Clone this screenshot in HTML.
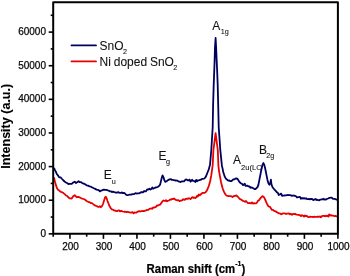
<!DOCTYPE html>
<html><head><meta charset="utf-8"><style>
html,body{margin:0;padding:0;background:#fff;}
body{width:350px;height:276px;overflow:hidden;}
svg{display:block;will-change:transform;font-family:"Liberation Sans",sans-serif;}
</style></head><body>
<svg width="350" height="276" viewBox="0 0 350 276">
<rect width="350" height="276" fill="#fff"/>
<g font-size="10" fill="#0a0a0a" stroke="#0a0a0a" stroke-width="0.25"><text x="70.55" y="250.1" text-anchor="middle">200</text><text x="104.04" y="250.1" text-anchor="middle">300</text><text x="137.54" y="250.1" text-anchor="middle">400</text><text x="171.03" y="250.1" text-anchor="middle">500</text><text x="204.52" y="250.1" text-anchor="middle">600</text><text x="238.02" y="250.1" text-anchor="middle">700</text><text x="271.51" y="250.1" text-anchor="middle">800</text><text x="305.01" y="250.1" text-anchor="middle">900</text><text x="338.50" y="250.1" text-anchor="middle">1000</text><text x="46" y="236.85" text-anchor="end">0</text><text x="46" y="203.22" text-anchor="end">10000</text><text x="46" y="169.60" text-anchor="end">20000</text><text x="46" y="135.97" text-anchor="end">30000</text><text x="46" y="102.35" text-anchor="end">40000</text><text x="46" y="68.72" text-anchor="end">50000</text><text x="46" y="35.10" text-anchor="end">60000</text></g>
<text transform="translate(146.6,273) scale(1,1.05)" font-size="11.4" font-weight="bold" fill="#000" stroke="#000" stroke-width="0.2">Raman shift (cm<tspan font-size="7" dy="-6.3">-1</tspan><tspan dy="6.3">)</tspan></text>
<text transform="translate(9.6,168.8) rotate(-90) scale(0.965,1)" font-size="13" font-weight="bold" fill="#000" stroke="#000" stroke-width="0.1">Intensity (a.u.)</text>
<text transform="translate(99.6,49.8) scale(1,1.12)" font-size="12" fill="#111" stroke="#111" stroke-width="0.08">SnO</text><text x="122.9" y="54.2" font-size="7.2" fill="#111" stroke="#111" stroke-width="0.08">2</text><text word-spacing="-0.5" transform="translate(99.6,65.5) scale(1,1.12)" font-size="12" fill="#111" stroke="#111" stroke-width="0.08">Ni doped SnO</text><text x="173.2" y="70.3" font-size="7.2" fill="#111" stroke="#111" stroke-width="0.08">2</text><text transform="translate(212.2,29.5) scale(1,1.12)" font-size="12" fill="#111" stroke="#111" stroke-width="0.08">A</text><text x="220.8" y="34.3" font-size="7.2" fill="#111" stroke="#111" stroke-width="0.08">1g</text><text transform="translate(103.7,178.9) scale(1,1.12)" font-size="12" fill="#111" stroke="#111" stroke-width="0.08">E</text><text x="111.8" y="184.0" font-size="7.2" fill="#111" stroke="#111" stroke-width="0.08">u</text><text transform="translate(158.6,159.8) scale(1,1.12)" font-size="12" fill="#111" stroke="#111" stroke-width="0.08">E</text><text x="165.9" y="164.4" font-size="7.2" fill="#111" stroke="#111" stroke-width="0.08">g</text><text transform="translate(232.9,164.1) scale(1,1.12)" font-size="12" fill="#111" stroke="#111" stroke-width="0.08">A</text><text x="241.0" y="170.0" font-size="7.6" fill="#111" stroke="#111" stroke-width="0.08">2u(LO</text><text transform="translate(258.9,153.7) scale(1,1.12)" font-size="12" fill="#111" stroke="#111" stroke-width="0.08">B</text><text x="266.3" y="158.3" font-size="7.2" fill="#111" stroke="#111" stroke-width="0.08">2g</text>
<line x1="71.5" y1="45.4" x2="96.0" y2="45.4" stroke="#00005e" stroke-width="1.8" stroke-linecap="round"/>
<line x1="71.5" y1="61.4" x2="96.0" y2="61.4" stroke="#e80000" stroke-width="1.8" stroke-linecap="round"/>
<polyline points="54,168 54.9,169.85 55.8,171.6 57,174.3 58.3,175.9 59.15,177.28 60,177.4 60.8,177.48 61.6,178.5 63,180 64.5,181.5 66,182.5 67.4,183.3 68.5,184.1 69.6,183.9 70.65,183.77 71.7,183.9 73.2,182.5 74.6,181.7 76,183 77.5,182 78.6,181.2 79.3,182 80.8,182.1 82.2,183.1 83.7,183.6 85.1,184.3 86.6,185.3 88,185.7 89.5,186.3 90.9,186.7 92.4,187.5 93.8,188.2 95.3,188.9 96.5,189.6 97.6,189.77 98.7,190.2 99.8,191.4 100.9,190.7 101.95,190.38 103,189.9 104,189.6 105.2,189.8 106.3,189.9 107.4,190.2 108.5,190.7 109.3,190.88 110.1,191.46 110.9,191.3 111.95,192.06 113,191.7 114.1,192.03 115.2,192.4 116.3,192.74 117.4,192.5 118.27,192.15 119.13,192.58 120,192.9 120.97,192.78 121.93,192.43 122.9,193.2 123.87,192.88 124.83,193.25 125.8,194.5 127.2,195.2 128.7,194.9 129.67,194.65 130.63,194.55 131.6,194.5 132.57,194.14 133.53,194.13 134.5,193.9 135.47,193.07 136.43,193.53 137.4,193.4 138.37,193.29 139.33,193.31 140.3,192.7 141.27,192.14 142.23,192.23 143.2,192.3 144.13,190.96 145.07,191.38 146,191.3 147.15,189.35 148.3,189.6 149.37,188.59 150.43,189.55 151.5,188.7 152.32,187.4 153.15,188.7 153.98,188.26 154.8,187.9 155.87,187.34 156.93,187.33 158,186.7 159.05,185.96 160.1,184.7 160.9,181.4 161.9,177.3 162.6,175.4 163.5,177.3 164.4,180.3 165.3,181.9 166.6,181.2 168,180.1 169.5,179.4 171,179.1 171.85,179.97 172.7,179.8 173.85,180.03 175,180.5 175.82,180.4 176.65,180.6 177.48,180.61 178.3,181.3 179.5,181.68 180.7,182.1 181.85,181.31 183,181.3 184,181.28 185,180.2 186,179.37 187,179.85 188,180.5 188.82,180.1 189.65,179.6 190.48,181.68 191.3,180.8 192.12,179.72 192.95,180.91 193.78,180.91 194.6,181.3 195.4,181.93 196.2,179.91 197,181.24 197.8,180.5 199.4,180.2 201,179.7 202,178.93 203,178.9 204.4,178.5 205.9,176.6 207.3,173 208.8,169.4 209.5,166.5 210,165 211.3,150 212.7,127 213.1,105 213.7,85 214.2,72 214.6,61 215,47 215.6,38 216.1,47 216.7,61 217.2,72 217.7,85 218.2,105 218.7,127 219.5,138.5 220.3,150 221.9,165.7 222.6,168.6 223.3,172.3 224.8,176.8 226.2,179.1 227.2,179.77 228.2,180.6 229.2,180.51 230.2,181.1 231.2,181.12 232.2,180.5 233.2,179.38 234.2,179.4 235,178.91 235.8,178.5 236.8,178.5 237.8,179.3 239,181.4 240.3,182.8 241.15,183.48 242,183.8 243,185.12 244,184.6 244.8,183.7 245.6,185.96 246.4,185.97 247.2,185.56 248,186.1 248.8,186.55 249.6,186.47 250.4,187.82 251.2,187.4 252,187.6 252.83,187.96 253.67,188.42 254.5,189 255.5,189.1 256.45,188.1 257.4,187.3 258.4,184.8 259.4,179.7 260.4,174.6 261.4,169.5 262.4,165.2 263.4,163 264.4,165.2 265.4,169.5 266.4,174.6 267.4,179.7 268.4,183.3 269.4,184.8 270.4,182.6 270.9,179.7 271.4,184 272.4,187 273.2,187.96 274,189.1 275.5,190.6 277,192.4 277.83,192.73 278.67,194.96 279.5,194.7 280.33,194.11 281.17,193.63 282,195.8 283,195.59 284,195.5 285,195.29 286,195.42 287,195.1 288,195 289,195.03 290,195.1 291,195.4 292,195.85 293,195.5 294,195.54 295,195.85 296,196.3 297,197.54 298,197.1 299,197.1 300,196.87 301,198.8 302,197.9 303,198.55 304,198.14 305,198.7 306,198.28 307,199.18 308,199.2 309,198.88 310,199.4 310.83,198.92 311.67,198.85 312.5,199.3 313.33,200.15 314.17,199.43 315,199.7 315.83,198.98 316.67,200.03 317.5,199.73 318.33,200.12 319.17,200.3 320,199.7 320.83,199.53 321.67,199.46 322.5,199.43 323.33,198.8 324.17,199.62 325,199.2 326,199.65 327,198.82 328,198.5 328.83,198.11 329.67,197.84 330.5,197.7 331.33,197.68 332.17,198.03 333,198.8 333.88,198.82 334.75,198.83 335.62,199.26 336.5,199.7 337.6,199.8" fill="none" stroke="#00005e" stroke-width="1.8" stroke-linejoin="round"/>
<polyline points="54,177.4 55,181.7 56,185.4 57,188.3 58,189.7 59,190.32 60,191.2 61,191.96 62,192.2 63,192.79 64,193.6 65,194.39 66,195.5 67,195.78 68,197 69.6,198.4 70.65,198.34 71.7,198.5 73.2,196.2 74.6,195.2 76,196.5 76.95,197.26 77.9,196.9 79.3,197.2 80.8,198 82.2,198.6 83.7,199 85.1,199.8 86.6,201 88,201.7 89,202.21 90,202.3 91,203.22 92,203.1 93.15,204.12 94.3,204.9 95.4,205.65 96.5,206 97.6,206.59 98.7,207 99.8,206.27 100.9,207.2 102,206.2 103,204 104,200.8 105,197.5 105.7,196.7 106.5,198 107.4,200.8 108.5,203.5 109.6,206.3 110.9,208.4 111.95,209.48 113,209.7 114.1,210.4 115.2,210.6 116.3,211.1 117.4,211.1 118.27,210.32 119.13,210.36 120,211.3 120.97,210.92 121.93,211.2 122.9,211.5 123.87,211.75 124.83,211.68 125.8,211.8 126.77,212.19 127.73,211.75 128.7,212.2 129.67,212.45 130.63,212.6 131.6,212.5 132.57,212.17 133.53,213.36 134.5,212.5 135.47,212.54 136.43,212.63 137.4,211.8 138.37,211.39 139.33,211.23 140.3,211.5 141.27,211.16 142.23,211.11 143.2,211 144.13,211.12 145.07,210.72 146,210.4 147.15,209.88 148.3,209.8 149.37,208.85 150.43,208.61 151.5,208.4 152.32,208.74 153.15,207.45 153.98,207.7 154.8,207.3 155.87,206.95 156.93,205.42 158,205.6 159,204.89 160,204.79 161,203.4 162.3,201.5 163.5,200.5 165,201 166,200.14 167,201.3 167.83,200.77 168.67,200.51 169.5,200.2 170.33,199.39 171.17,199.65 172,199 173,199.07 174,198.47 175,199.3 175.82,199.91 176.65,200.03 177.48,200.37 178.3,200.1 179.5,201.07 180.7,200.6 181.52,200.53 182.35,200.16 183.18,199.2 184,199.6 184.8,199.77 185.6,199.01 186.4,198.95 187.2,198.41 188,198.9 188.82,198.29 189.65,198.38 190.48,199.17 191.3,198.4 192.12,197.18 192.95,197.27 193.78,197.92 194.6,197.6 195.4,198.05 196.2,197.34 197,195.83 197.8,196.5 198.8,194.51 199.8,195.21 200.8,194.3 201.77,193.47 202.73,192.81 203.7,192.9 204.8,192.89 205.9,191.9 207.3,189.7 208.8,186 210.2,181 211.3,175.2 212.1,169.4 212.7,165 213.4,150 214.5,141.6 215.6,133.2 216.7,141.6 217.8,150 218.4,165.7 219,170.8 220,176.6 221.1,182.4 222.6,188.2 224,191.9 225.5,194.5 226.6,195.7 227.7,195.8 228.67,196.01 229.63,196.19 230.6,196.2 231.57,196.42 232.53,197 233.5,196.2 235,195.8 236.4,195.5 237.2,196.1 238.5,197.5 240,199.1 241,199.4 242,200.31 243,200.86 244,201.2 245,201.77 246,201.02 247,202.1 248,203.04 249,203.18 250,203 251,203.46 252,202.41 253,203.6 254,203.18 255,203.4 256,203.42 257,202.6 258,200.54 259,200.3 260,198.86 261,197.6 262.5,196.1 264,197.2 265.5,200.3 267,203.9 268,205.76 269,206.6 270,206.84 271,208.4 272,209.96 273,209.9 274,210.83 275,211.2 276,211.62 277,212.2 277.83,212.76 278.67,213.32 279.5,213.4 280.33,213.63 281.17,214.31 282,213.9 283,213.4 284,213.36 285,213.4 286,214.02 287,213.61 288,213.7 289,213.33 290,214.31 291,213.9 292,214.73 293,213.88 294,214.2 295,213.68 296,214.47 297,214.7 298,214.83 299,214.95 300,215.3 301,216.17 302,215.12 303,215.8 304,216.56 305,215.43 306,216.2 306.8,215.91 307.6,216.72 308.4,217.06 309.2,217.03 310,216.7 310.83,216.89 311.67,216.8 312.5,216.83 313.33,217.05 314.17,216.7 315,216.8 315.83,216.87 316.67,216.95 317.5,216.6 318.33,216.92 319.17,216.75 320,216.4 320.83,217.32 321.67,216.4 322.5,215.94 323.33,215.88 324.17,215.98 325,215.9 325.83,216.31 326.67,215.63 327.5,215.94 328.33,216.62 329.17,214.37 330,215.6 331,215.04 332,215.72 333,215.6 333.88,215.97 334.75,216.07 335.62,215.91 336.5,216.3 337.6,216.4" fill="none" stroke="#e80000" stroke-width="1.8" stroke-linejoin="round"/>
<rect x="53.2" y="2.2" width="284.70" height="231.65" fill="none" stroke="#000" stroke-width="2" stroke-linejoin="round"/>
<g stroke="#000" stroke-width="1.6"><line x1="53.20" y1="233.85" x2="53.20" y2="236.65"/><line x1="69.95" y1="233.85" x2="69.95" y2="238.85"/><line x1="86.69" y1="233.85" x2="86.69" y2="236.65"/><line x1="103.44" y1="233.85" x2="103.44" y2="238.85"/><line x1="120.19" y1="233.85" x2="120.19" y2="236.65"/><line x1="136.94" y1="233.85" x2="136.94" y2="238.85"/><line x1="153.68" y1="233.85" x2="153.68" y2="236.65"/><line x1="170.43" y1="233.85" x2="170.43" y2="238.85"/><line x1="187.18" y1="233.85" x2="187.18" y2="236.65"/><line x1="203.92" y1="233.85" x2="203.92" y2="238.85"/><line x1="220.67" y1="233.85" x2="220.67" y2="236.65"/><line x1="237.42" y1="233.85" x2="237.42" y2="238.85"/><line x1="254.16" y1="233.85" x2="254.16" y2="236.65"/><line x1="270.91" y1="233.85" x2="270.91" y2="238.85"/><line x1="287.66" y1="233.85" x2="287.66" y2="236.65"/><line x1="304.41" y1="233.85" x2="304.41" y2="238.85"/><line x1="321.15" y1="233.85" x2="321.15" y2="236.65"/><line x1="337.90" y1="233.85" x2="337.90" y2="238.85"/><line x1="53.2" y1="233.85" x2="48.7" y2="233.85"/><line x1="53.2" y1="217.04" x2="50.7" y2="217.04"/><line x1="53.2" y1="200.22" x2="48.7" y2="200.22"/><line x1="53.2" y1="183.41" x2="50.7" y2="183.41"/><line x1="53.2" y1="166.60" x2="48.7" y2="166.60"/><line x1="53.2" y1="149.79" x2="50.7" y2="149.79"/><line x1="53.2" y1="132.97" x2="48.7" y2="132.97"/><line x1="53.2" y1="116.16" x2="50.7" y2="116.16"/><line x1="53.2" y1="99.35" x2="48.7" y2="99.35"/><line x1="53.2" y1="82.54" x2="50.7" y2="82.54"/><line x1="53.2" y1="65.72" x2="48.7" y2="65.72"/><line x1="53.2" y1="48.91" x2="50.7" y2="48.91"/><line x1="53.2" y1="32.10" x2="48.7" y2="32.10"/><line x1="53.2" y1="15.29" x2="50.7" y2="15.29"/></g>
</svg>
</body></html>
